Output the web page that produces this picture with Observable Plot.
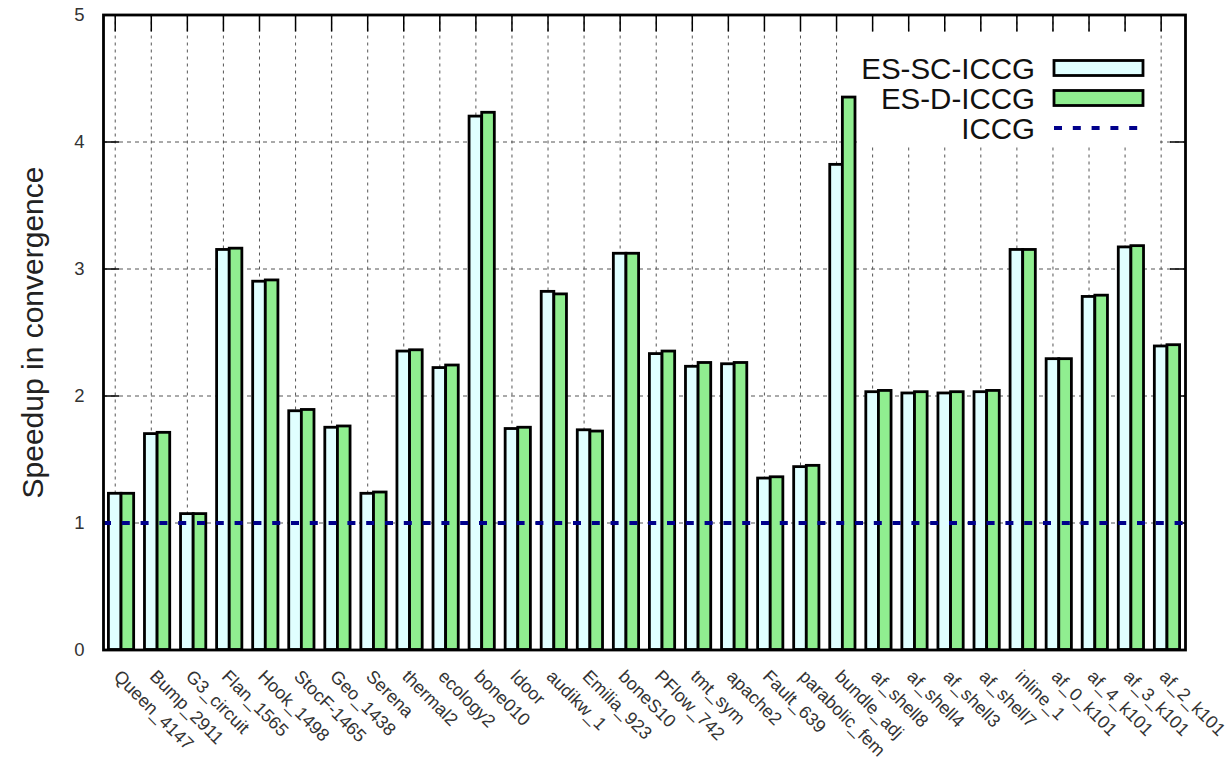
<!DOCTYPE html>
<html>
<head>
<meta charset="utf-8">
<script src="https://cdn.jsdelivr.net/npm/d3@7"></script>
<script src="https://cdn.jsdelivr.net/npm/@observablehq/plot@0.6"></script>
<style>
  html, body { margin: 0; padding: 0; background: #fff; }
  #wrap { position: relative; width: 1230px; height: 762px; font-family: "Liberation Sans", Arial, sans-serif; }
  #legend { position: absolute; left: 857px; top: 35px; width: 303px; height: 111px; background: #fff; }
</style>
</head>
<body>
<div id="wrap">
  <div id="chart"></div>
  <div id="legend"></div>
</div>
<script>
// Test matrices (x axis)
const names = [
  "Queen_4147", "Bump_2911", "G3_circuit", "Flan_1565", "Hook_1498", "StocF-1465",
  "Geo_1438", "Serena", "thermal2", "ecology2", "bone010", "ldoor", "audikw_1",
  "Emilia_923", "boneS10", "PFlow_742", "tmt_sym", "apache2", "Fault_639",
  "parabolic_fem", "bundle_adj", "af_shell8", "af_shell4", "af_shell3", "af_shell7",
  "inline_1", "af_0_k101", "af_4_k101", "af_3_k101", "af_2_k101"
];

// Speedup in convergence relative to ICCG
const esSC = [1.23, 1.70, 1.07, 3.15, 2.90, 1.88, 1.75, 1.23, 2.35, 2.22, 4.20, 1.74, 2.82,
              1.73, 3.12, 2.33, 2.23, 2.25, 1.35, 1.44, 3.82, 2.03, 2.02, 2.02, 2.03,
              3.15, 2.29, 2.78, 3.17, 2.39];
const esD  = [1.23, 1.71, 1.07, 3.16, 2.91, 1.89, 1.76, 1.24, 2.36, 2.24, 4.23, 1.75, 2.80,
              1.72, 3.12, 2.35, 2.26, 2.26, 1.36, 1.45, 4.35, 2.04, 2.03, 2.03, 2.04,
              3.15, 2.29, 2.79, 3.18, 2.40];

// Baseline (ICCG) and y tick values
const baseline = [1];
const yTicks = [0, 1, 2, 3, 4, 5];
const yGrid = [1, 2, 3, 4];

const seriesNames = ["ES-SC-ICCG", "ES-D-ICCG", "ICCG"];
const fillSC = "#e0ffff";
const fillD = "#90ee90";
const navy = "#00008b";

const rows = names.map((name, i) => ({name, sc: esSC[i], d: esD[i]}));

const W = 1230, H = 762;
const mL = 103, mR = 45, mT = 14.5, mB = 112.5;
const padIn = 0.3, padOut = 0.15;
const step = (W - mL - mR) / (names.length - padIn + 2 * padOut);
const bw = step * (1 - padIn);       // width of a bar pair
const half = bw / 2;                 // width of one bar
const gridDx = -bw / 4;              // grid/tick lines run through the ES-SC bar

const font = "Liberation Sans, Arial, sans-serif";

const chart = Plot.plot({
  width: W,
  height: H,
  marginLeft: mL,
  marginRight: mR,
  marginTop: mT,
  marginBottom: mB,
  style: {fontFamily: font, background: "white", color: "#222", overflow: "visible"},
  x: {type: "band", domain: names, paddingInner: padIn, paddingOuter: padOut, round: false, axis: null},
  y: {domain: [0, 5], axis: null},
  marks: [
    // grid
    Plot.ruleY(yGrid, {y: d => d, stroke: "#555", strokeWidth: 1, strokeDasharray: "4,4"}),
    Plot.ruleX(names, {x: d => d, dx: gridDx, stroke: "#555", strokeWidth: 1, strokeDasharray: "3,4"}),
    // inward ticks
    Plot.axisY(yTicks, {anchor: "left", tickSize: 16, dx: 16, text: null, label: null, stroke: "black", strokeWidth: 1.5}),
    Plot.axisY(yTicks, {anchor: "right", tickSize: 16, dx: -16, text: null, label: null, stroke: "black", strokeWidth: 1.5}),
    Plot.axisX(names, {anchor: "top", tickSize: 16, dy: 16, dx: gridDx, text: null, label: null, stroke: "black", strokeWidth: 1.5}),
    // y tick labels
    Plot.axisY(yTicks, {anchor: "left", tickSize: 0, tickPadding: 19, tickFormat: "d", label: null, fontSize: 18.5, fill: "#333"}),
    // bars
    Plot.barY(rows, {x: "name", y: "sc", fill: fillSC, stroke: "black", strokeWidth: 2.8, insetRight: half}),
    Plot.barY(rows, {x: "name", y: "d", fill: fillD, stroke: "black", strokeWidth: 2.8, insetLeft: half}),
    // ICCG baseline
    Plot.ruleY(baseline, {y: d => d, stroke: navy, strokeWidth: 4, strokeDasharray: "8,10.8"}),
    // category labels
    Plot.text(names, {
      x: d => d, frameAnchor: "bottom", dx: gridDx + 1.5, dy: 23.5,
      rotate: 45, textAnchor: "start", lineAnchor: "middle",
      fontSize: 18, fill: "#333"
    }),
    // y axis title
    Plot.text(["Speedup in convergence"], {
      frameAnchor: "left", dx: -70, rotate: -90, textAnchor: "middle", lineAnchor: "middle",
      fontSize: 30, fill: "#222"
    }),
    Plot.frame({stroke: "black", strokeWidth: 2.8})
  ]
});
document.getElementById("chart").appendChild(chart);

// legend
const lg = d3.select("#legend").append("svg")
  .attr("width", 303).attr("height", 111)
  .style("font-family", font);
const rowY = [33, 63, 93];
seriesNames.forEach((s, i) => {
  lg.append("text")
    .attr("x", 178).attr("y", rowY[i])
    .attr("text-anchor", "end").attr("dominant-baseline", "central")
    .attr("font-size", 29.5).attr("fill", "#111")
    .text(s);
});
lg.append("rect").attr("x", 197).attr("y", rowY[0] - 7.5).attr("width", 89).attr("height", 15)
  .attr("fill", fillSC).attr("stroke", "black").attr("stroke-width", 2.8);
lg.append("rect").attr("x", 197).attr("y", rowY[1] - 7.5).attr("width", 89).attr("height", 15)
  .attr("fill", fillD).attr("stroke", "black").attr("stroke-width", 2.8);
lg.append("line").attr("x1", 197).attr("x2", 282).attr("y1", rowY[2]).attr("y2", rowY[2])
  .attr("stroke", navy).attr("stroke-width", 4).attr("stroke-dasharray", "8,10.8");
</script>
</body>
</html>
